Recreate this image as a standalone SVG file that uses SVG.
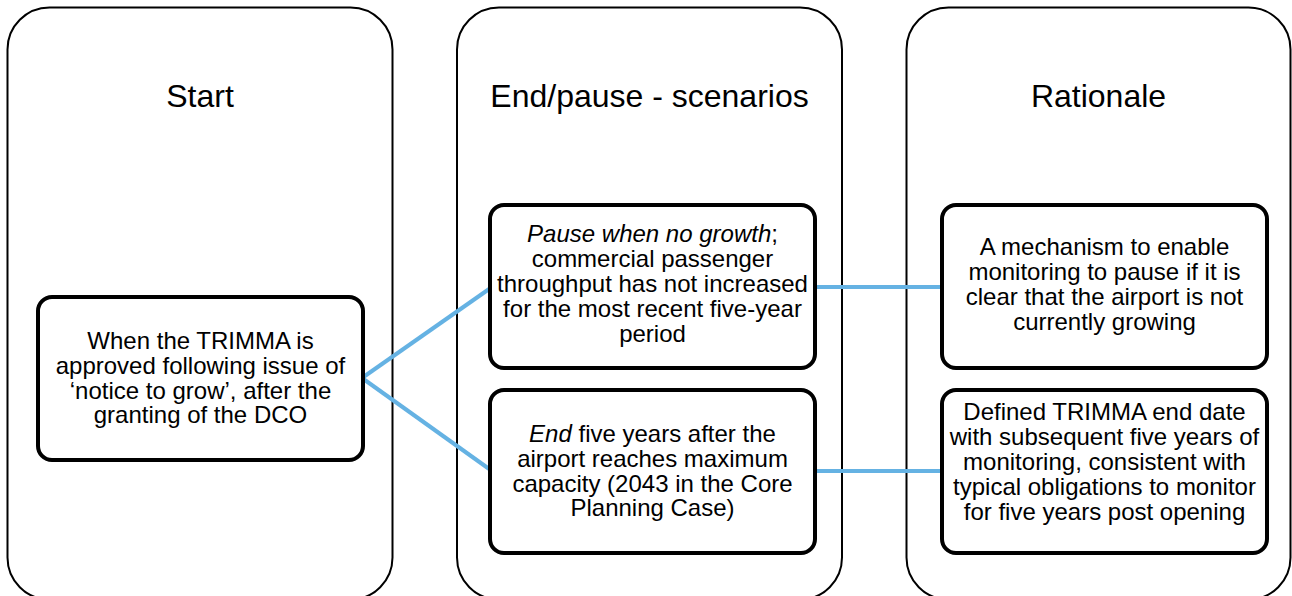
<svg xmlns="http://www.w3.org/2000/svg" width="1292" height="596" viewBox="0 0 1292 596">
<style>
.col{fill:#fff;stroke:#000;stroke-width:2}
.box{fill:#fff;stroke:#000;stroke-width:4}
.hd{font-family:"Liberation Sans",Arial,sans-serif;font-size:32px;fill:#000;text-anchor:middle}
.tx{font-family:"Liberation Sans",Arial,sans-serif;font-size:24px;fill:#000;text-anchor:middle}
.cn{stroke:#65B2E3;stroke-width:4;fill:none}
</style>
<rect width="1292" height="596" fill="#fff"/>
<g id="col-start"><rect class="col" x="7.5" y="7.5" width="385" height="592" rx="42"/><text class="hd" x="200" y="107">Start</text></g>
<g id="col-end"><rect class="col" x="457" y="7.5" width="385" height="592" rx="42"/><text class="hd" x="649.5" y="107">End/pause - scenarios</text></g>
<g id="col-rationale"><rect class="col" x="906.5" y="7.5" width="384" height="592" rx="42"/><text class="hd" x="1098.5" y="107">Rationale</text></g>
<g id="connectors">
<line class="cn" x1="362" y1="378" x2="492" y2="287"/>
<line class="cn" x1="362" y1="378" x2="492" y2="471"/>
<line class="cn" x1="813" y1="287" x2="944" y2="287"/>
<line class="cn" x1="813" y1="471" x2="944" y2="471"/>
</g>
<g id="start"><rect class="box" x="38" y="297" width="325" height="163" rx="14"/>
<text class="tx" x="200.5" y="349">When the TRIMMA is</text>
<text class="tx" x="200.5" y="374">approved following issue of</text>
<text class="tx" x="200.5" y="398.5">‘notice to grow’, after the</text>
<text class="tx" x="200.5" y="423">granting of the DCO</text></g>
<g id="pause"><rect class="box" x="490" y="205" width="325" height="163" rx="14"/>
<text class="tx" x="652.5" y="242"><tspan font-style="italic">Pause when no growth</tspan>;</text>
<text class="tx" x="652.5" y="267">commercial passenger</text>
<text class="tx" x="652.5" y="292">throughput has not increased</text>
<text class="tx" x="652.5" y="317">for the most recent five-year</text>
<text class="tx" x="652.5" y="342">period</text></g>
<g id="end"><rect class="box" x="490" y="390" width="325" height="163" rx="14"/>
<text class="tx" x="652.5" y="442"><tspan font-style="italic">End</tspan> five years after the</text>
<text class="tx" x="652.5" y="467">airport reaches maximum</text>
<text class="tx" x="652.5" y="491.5">capacity (2043 in the Core</text>
<text class="tx" x="652.5" y="516">Planning Case)</text></g>
<g id="rationale-pause"><rect class="box" x="942" y="205" width="325" height="163" rx="14"/>
<text class="tx" x="1104.5" y="255">A mechanism to enable</text>
<text class="tx" x="1104.5" y="280">monitoring to pause if it is</text>
<text class="tx" x="1104.5" y="305">clear that the airport is not</text>
<text class="tx" x="1104.5" y="330">currently growing</text></g>
<g id="rationale-end"><rect class="box" x="942" y="390" width="325" height="163" rx="14"/>
<text class="tx" x="1104.5" y="420">Defined TRIMMA end date</text>
<text class="tx" x="1104.5" y="445">with subsequent five years of</text>
<text class="tx" x="1104.5" y="470">monitoring, consistent with</text>
<text class="tx" x="1104.5" y="495">typical obligations to monitor</text>
<text class="tx" x="1104.5" y="520">for five years post opening</text></g>
</svg>
